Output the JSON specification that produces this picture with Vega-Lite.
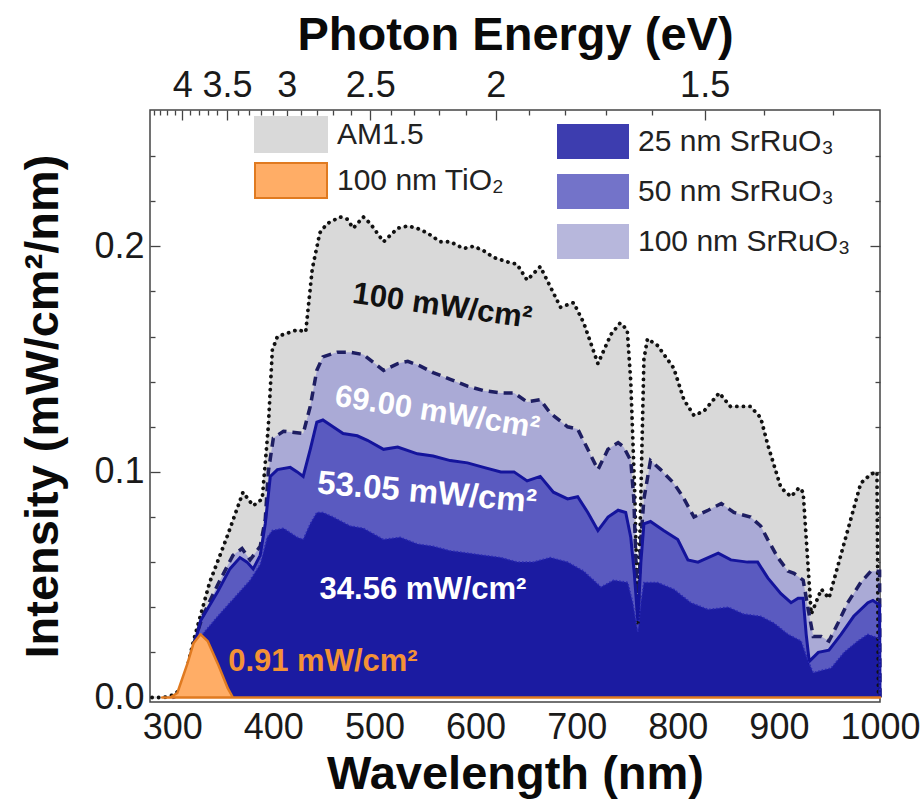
{
  "$schema": "https://vega.github.io/schema/vega-lite/v6.json",
  "width": 730,
  "height": 592,
  "autosize": {"type": "none"},
  "padding": {"left": 150, "top": 110, "right": 43, "bottom": 102},
  "background": "white",
  "config": {
    "view": {"stroke": "#444", "strokeWidth": 1.5},
    "font": "Liberation Sans",
    "axis": {"grid": false, "domain": false, "tickColor": "#444", "tickWidth": 1.3, "labelFont": "Liberation Sans", "titleFont": "Liberation Sans", "labelColor": "#1a1a1a", "titleColor": "#0a0a0a", "labelOverlap": false, "labelFlush": false},
    "legend": {"labelFont": "Liberation Sans", "labelColor": "#222", "labelFontSize": 30, "padding": 0, "titlePadding": 0, "labelLimit": 400}
  },
  "datasets": {
    "spec": [
      {"s": "AM1.5", "wl": 280, "v": 0}, {"s": "AM1.5", "wl": 292, "v": 0}, {"s": "AM1.5", "wl": 300, "v": 0.001}, {"s": "AM1.5", "wl": 310, "v": 0.004}, {"s": "AM1.5", "wl": 321, "v": 0.025}, {"s": "AM1.5", "wl": 337, "v": 0.051}, {"s": "AM1.5", "wl": 354, "v": 0.071}, {"s": "AM1.5", "wl": 370, "v": 0.091}, {"s": "AM1.5", "wl": 380, "v": 0.085}, {"s": "AM1.5", "wl": 389, "v": 0.088}, {"s": "AM1.5", "wl": 395, "v": 0.12}, {"s": "AM1.5", "wl": 399, "v": 0.154}, {"s": "AM1.5", "wl": 404, "v": 0.160}, {"s": "AM1.5", "wl": 424, "v": 0.163}, {"s": "AM1.5", "wl": 432, "v": 0.162}, {"s": "AM1.5", "wl": 438.5, "v": 0.19}, {"s": "AM1.5", "wl": 446, "v": 0.206}, {"s": "AM1.5", "wl": 453, "v": 0.210}, {"s": "AM1.5", "wl": 466, "v": 0.213}, {"s": "AM1.5", "wl": 473, "v": 0.212}, {"s": "AM1.5", "wl": 479, "v": 0.208}, {"s": "AM1.5", "wl": 489, "v": 0.213}, {"s": "AM1.5", "wl": 496, "v": 0.210}, {"s": "AM1.5", "wl": 509, "v": 0.202}, {"s": "AM1.5", "wl": 523, "v": 0.208}, {"s": "AM1.5", "wl": 533, "v": 0.209}, {"s": "AM1.5", "wl": 542, "v": 0.208}, {"s": "AM1.5", "wl": 552, "v": 0.206}, {"s": "AM1.5", "wl": 565, "v": 0.202}, {"s": "AM1.5", "wl": 575, "v": 0.202}, {"s": "AM1.5", "wl": 588, "v": 0.199}, {"s": "AM1.5", "wl": 598, "v": 0.200}, {"s": "AM1.5", "wl": 608, "v": 0.198}, {"s": "AM1.5", "wl": 618, "v": 0.195}, {"s": "AM1.5", "wl": 632, "v": 0.193}, {"s": "AM1.5", "wl": 641, "v": 0.192}, {"s": "AM1.5", "wl": 651, "v": 0.185}, {"s": "AM1.5", "wl": 664, "v": 0.191}, {"s": "AM1.5", "wl": 674, "v": 0.182}, {"s": "AM1.5", "wl": 684, "v": 0.173}, {"s": "AM1.5", "wl": 697, "v": 0.175}, {"s": "AM1.5", "wl": 707, "v": 0.166}, {"s": "AM1.5", "wl": 721, "v": 0.148}, {"s": "AM1.5", "wl": 734, "v": 0.161}, {"s": "AM1.5", "wl": 743, "v": 0.166}, {"s": "AM1.5", "wl": 750, "v": 0.163}, {"s": "AM1.5", "wl": 753.5, "v": 0.14}, {"s": "AM1.5", "wl": 757.5, "v": 0.09}, {"s": "AM1.5", "wl": 760.5, "v": 0.033}, {"s": "AM1.5", "wl": 763.5, "v": 0.09}, {"s": "AM1.5", "wl": 766.5, "v": 0.15}, {"s": "AM1.5", "wl": 770, "v": 0.159}, {"s": "AM1.5", "wl": 780, "v": 0.156}, {"s": "AM1.5", "wl": 796, "v": 0.146}, {"s": "AM1.5", "wl": 806, "v": 0.132}, {"s": "AM1.5", "wl": 816, "v": 0.125}, {"s": "AM1.5", "wl": 826, "v": 0.127}, {"s": "AM1.5", "wl": 841, "v": 0.135}, {"s": "AM1.5", "wl": 852, "v": 0.129}, {"s": "AM1.5", "wl": 872, "v": 0.129}, {"s": "AM1.5", "wl": 882, "v": 0.124}, {"s": "AM1.5", "wl": 889, "v": 0.112}, {"s": "AM1.5", "wl": 902, "v": 0.093}, {"s": "AM1.5", "wl": 912, "v": 0.089}, {"s": "AM1.5", "wl": 920, "v": 0.093}, {"s": "AM1.5", "wl": 924, "v": 0.091}, {"s": "AM1.5", "wl": 932, "v": 0.037}, {"s": "AM1.5", "wl": 942, "v": 0.048}, {"s": "AM1.5", "wl": 949.5, "v": 0.044}, {"s": "AM1.5", "wl": 968, "v": 0.074}, {"s": "AM1.5", "wl": 981, "v": 0.095}, {"s": "AM1.5", "wl": 991, "v": 0.099}, {"s": "AM1.5", "wl": 997, "v": 0.100}, {"s": "AM1.5", "wl": 998.5, "v": 0},

      {"s": "100 nm SrRuO₃", "wl": 300, "v": 0}, {"s": "100 nm SrRuO₃", "wl": 306, "v": 0.001}, {"s": "100 nm SrRuO₃", "wl": 312, "v": 0.006}, {"s": "100 nm SrRuO₃", "wl": 320, "v": 0.022}, {"s": "100 nm SrRuO₃", "wl": 330, "v": 0.036}, {"s": "100 nm SrRuO₃", "wl": 345, "v": 0.050}, {"s": "100 nm SrRuO₃", "wl": 360, "v": 0.063}, {"s": "100 nm SrRuO₃", "wl": 369, "v": 0.066}, {"s": "100 nm SrRuO₃", "wl": 377, "v": 0.061}, {"s": "100 nm SrRuO₃", "wl": 387, "v": 0.067}, {"s": "100 nm SrRuO₃", "wl": 392, "v": 0.079}, {"s": "100 nm SrRuO₃", "wl": 395, "v": 0.100}, {"s": "100 nm SrRuO₃", "wl": 400, "v": 0.115}, {"s": "100 nm SrRuO₃", "wl": 410, "v": 0.118}, {"s": "100 nm SrRuO₃", "wl": 429.5, "v": 0.117}, {"s": "100 nm SrRuO₃", "wl": 436.5, "v": 0.129}, {"s": "100 nm SrRuO₃", "wl": 443, "v": 0.145}, {"s": "100 nm SrRuO₃", "wl": 449, "v": 0.151}, {"s": "100 nm SrRuO₃", "wl": 463, "v": 0.153}, {"s": "100 nm SrRuO₃", "wl": 476, "v": 0.153}, {"s": "100 nm SrRuO₃", "wl": 489, "v": 0.152}, {"s": "100 nm SrRuO₃", "wl": 509, "v": 0.145}, {"s": "100 nm SrRuO₃", "wl": 523, "v": 0.148}, {"s": "100 nm SrRuO₃", "wl": 533, "v": 0.149}, {"s": "100 nm SrRuO₃", "wl": 545, "v": 0.147}, {"s": "100 nm SrRuO₃", "wl": 558, "v": 0.144}, {"s": "100 nm SrRuO₃", "wl": 575, "v": 0.141}, {"s": "100 nm SrRuO₃", "wl": 592, "v": 0.138}, {"s": "100 nm SrRuO₃", "wl": 608, "v": 0.136}, {"s": "100 nm SrRuO₃", "wl": 625, "v": 0.135}, {"s": "100 nm SrRuO₃", "wl": 638, "v": 0.135}, {"s": "100 nm SrRuO₃", "wl": 651, "v": 0.131}, {"s": "100 nm SrRuO₃", "wl": 664, "v": 0.132}, {"s": "100 nm SrRuO₃", "wl": 674, "v": 0.126}, {"s": "100 nm SrRuO₃", "wl": 691, "v": 0.120}, {"s": "100 nm SrRuO₃", "wl": 701, "v": 0.119}, {"s": "100 nm SrRuO₃", "wl": 711, "v": 0.110}, {"s": "100 nm SrRuO₃", "wl": 721, "v": 0.101}, {"s": "100 nm SrRuO₃", "wl": 731, "v": 0.110}, {"s": "100 nm SrRuO₃", "wl": 741, "v": 0.113}, {"s": "100 nm SrRuO₃", "wl": 746.5, "v": 0.111}, {"s": "100 nm SrRuO₃", "wl": 753.5, "v": 0.105}, {"s": "100 nm SrRuO₃", "wl": 756.5, "v": 0.088}, {"s": "100 nm SrRuO₃", "wl": 760.5, "v": 0.036}, {"s": "100 nm SrRuO₃", "wl": 763.5, "v": 0.07}, {"s": "100 nm SrRuO₃", "wl": 766.5, "v": 0.088}, {"s": "100 nm SrRuO₃", "wl": 773, "v": 0.105}, {"s": "100 nm SrRuO₃", "wl": 783, "v": 0.101}, {"s": "100 nm SrRuO₃", "wl": 796, "v": 0.095}, {"s": "100 nm SrRuO₃", "wl": 805, "v": 0.089}, {"s": "100 nm SrRuO₃", "wl": 816, "v": 0.080}, {"s": "100 nm SrRuO₃", "wl": 830, "v": 0.083}, {"s": "100 nm SrRuO₃", "wl": 843, "v": 0.086}, {"s": "100 nm SrRuO₃", "wl": 855.5, "v": 0.082}, {"s": "100 nm SrRuO₃", "wl": 872, "v": 0.080}, {"s": "100 nm SrRuO₃", "wl": 882, "v": 0.076}, {"s": "100 nm SrRuO₃", "wl": 889, "v": 0.070}, {"s": "100 nm SrRuO₃", "wl": 899, "v": 0.062}, {"s": "100 nm SrRuO₃", "wl": 909, "v": 0.056}, {"s": "100 nm SrRuO₃", "wl": 915, "v": 0.055}, {"s": "100 nm SrRuO₃", "wl": 924, "v": 0.052}, {"s": "100 nm SrRuO₃", "wl": 929, "v": 0.039}, {"s": "100 nm SrRuO₃", "wl": 934, "v": 0.027}, {"s": "100 nm SrRuO₃", "wl": 942, "v": 0.027}, {"s": "100 nm SrRuO₃", "wl": 949.5, "v": 0.025}, {"s": "100 nm SrRuO₃", "wl": 958.5, "v": 0.033}, {"s": "100 nm SrRuO₃", "wl": 968, "v": 0.042}, {"s": "100 nm SrRuO₃", "wl": 981, "v": 0.051}, {"s": "100 nm SrRuO₃", "wl": 991, "v": 0.056}, {"s": "100 nm SrRuO₃", "wl": 999.6, "v": 0.056}, {"s": "100 nm SrRuO₃", "wl": 1000, "v": 0},

      {"s": "50 nm SrRuO₃", "wl": 300, "v": 0}, {"s": "50 nm SrRuO₃", "wl": 306, "v": 0.001}, {"s": "50 nm SrRuO₃", "wl": 312, "v": 0.005}, {"s": "50 nm SrRuO₃", "wl": 320, "v": 0.020}, {"s": "50 nm SrRuO₃", "wl": 328, "v": 0.034}, {"s": "50 nm SrRuO₃", "wl": 345, "v": 0.047}, {"s": "50 nm SrRuO₃", "wl": 357, "v": 0.057}, {"s": "50 nm SrRuO₃", "wl": 367, "v": 0.062}, {"s": "50 nm SrRuO₃", "wl": 374, "v": 0.060}, {"s": "50 nm SrRuO₃", "wl": 380, "v": 0.057}, {"s": "50 nm SrRuO₃", "wl": 387, "v": 0.063}, {"s": "50 nm SrRuO₃", "wl": 392, "v": 0.077}, {"s": "50 nm SrRuO₃", "wl": 397, "v": 0.098}, {"s": "50 nm SrRuO₃", "wl": 404, "v": 0.101}, {"s": "50 nm SrRuO₃", "wl": 416.7, "v": 0.102}, {"s": "50 nm SrRuO₃", "wl": 423.6, "v": 0.100}, {"s": "50 nm SrRuO₃", "wl": 429.5, "v": 0.098}, {"s": "50 nm SrRuO₃", "wl": 436.5, "v": 0.110}, {"s": "50 nm SrRuO₃", "wl": 443, "v": 0.122}, {"s": "50 nm SrRuO₃", "wl": 449, "v": 0.123}, {"s": "50 nm SrRuO₃", "wl": 459, "v": 0.120}, {"s": "50 nm SrRuO₃", "wl": 469, "v": 0.117}, {"s": "50 nm SrRuO₃", "wl": 483, "v": 0.116}, {"s": "50 nm SrRuO₃", "wl": 493, "v": 0.114}, {"s": "50 nm SrRuO₃", "wl": 509, "v": 0.110}, {"s": "50 nm SrRuO₃", "wl": 523, "v": 0.111}, {"s": "50 nm SrRuO₃", "wl": 542.5, "v": 0.108}, {"s": "50 nm SrRuO₃", "wl": 558, "v": 0.107}, {"s": "50 nm SrRuO₃", "wl": 575, "v": 0.105}, {"s": "50 nm SrRuO₃", "wl": 592, "v": 0.104}, {"s": "50 nm SrRuO₃", "wl": 608, "v": 0.102}, {"s": "50 nm SrRuO₃", "wl": 625, "v": 0.100}, {"s": "50 nm SrRuO₃", "wl": 638, "v": 0.100}, {"s": "50 nm SrRuO₃", "wl": 651, "v": 0.096}, {"s": "50 nm SrRuO₃", "wl": 664, "v": 0.098}, {"s": "50 nm SrRuO₃", "wl": 677, "v": 0.091}, {"s": "50 nm SrRuO₃", "wl": 691, "v": 0.088}, {"s": "50 nm SrRuO₃", "wl": 701, "v": 0.089}, {"s": "50 nm SrRuO₃", "wl": 711, "v": 0.082}, {"s": "50 nm SrRuO₃", "wl": 721, "v": 0.074}, {"s": "50 nm SrRuO₃", "wl": 731, "v": 0.080}, {"s": "50 nm SrRuO₃", "wl": 741, "v": 0.083}, {"s": "50 nm SrRuO₃", "wl": 748.5, "v": 0.082}, {"s": "50 nm SrRuO₃", "wl": 753.5, "v": 0.071}, {"s": "50 nm SrRuO₃", "wl": 757, "v": 0.055}, {"s": "50 nm SrRuO₃", "wl": 760.5, "v": 0.034}, {"s": "50 nm SrRuO₃", "wl": 763.5, "v": 0.060}, {"s": "50 nm SrRuO₃", "wl": 766.5, "v": 0.077}, {"s": "50 nm SrRuO₃", "wl": 773, "v": 0.078}, {"s": "50 nm SrRuO₃", "wl": 786, "v": 0.074}, {"s": "50 nm SrRuO₃", "wl": 800, "v": 0.070}, {"s": "50 nm SrRuO₃", "wl": 810, "v": 0.061}, {"s": "50 nm SrRuO₃", "wl": 820, "v": 0.060}, {"s": "50 nm SrRuO₃", "wl": 840, "v": 0.064}, {"s": "50 nm SrRuO₃", "wl": 852.5, "v": 0.061}, {"s": "50 nm SrRuO₃", "wl": 869, "v": 0.060}, {"s": "50 nm SrRuO₃", "wl": 879, "v": 0.060}, {"s": "50 nm SrRuO₃", "wl": 889, "v": 0.053}, {"s": "50 nm SrRuO₃", "wl": 902, "v": 0.046}, {"s": "50 nm SrRuO₃", "wl": 912, "v": 0.042}, {"s": "50 nm SrRuO₃", "wl": 919, "v": 0.044}, {"s": "50 nm SrRuO₃", "wl": 924, "v": 0.044}, {"s": "50 nm SrRuO₃", "wl": 927, "v": 0.028}, {"s": "50 nm SrRuO₃", "wl": 930, "v": 0.016}, {"s": "50 nm SrRuO₃", "wl": 939, "v": 0.020}, {"s": "50 nm SrRuO₃", "wl": 949.5, "v": 0.021}, {"s": "50 nm SrRuO₃", "wl": 961.5, "v": 0.028}, {"s": "50 nm SrRuO₃", "wl": 974, "v": 0.036}, {"s": "50 nm SrRuO₃", "wl": 988, "v": 0.042}, {"s": "50 nm SrRuO₃", "wl": 993, "v": 0.043}, {"s": "50 nm SrRuO₃", "wl": 999.6, "v": 0.041}, {"s": "50 nm SrRuO₃", "wl": 1000, "v": 0},

      {"s": "25 nm SrRuO₃", "wl": 300, "v": 0}, {"s": "25 nm SrRuO₃", "wl": 306, "v": 0.001}, {"s": "25 nm SrRuO₃", "wl": 312, "v": 0.004}, {"s": "25 nm SrRuO₃", "wl": 320, "v": 0.015}, {"s": "25 nm SrRuO₃", "wl": 328, "v": 0.027}, {"s": "25 nm SrRuO₃", "wl": 345, "v": 0.036}, {"s": "25 nm SrRuO₃", "wl": 361, "v": 0.044}, {"s": "25 nm SrRuO₃", "wl": 377, "v": 0.052}, {"s": "25 nm SrRuO₃", "wl": 387, "v": 0.059}, {"s": "25 nm SrRuO₃", "wl": 394, "v": 0.071}, {"s": "25 nm SrRuO₃", "wl": 399, "v": 0.074}, {"s": "25 nm SrRuO₃", "wl": 410, "v": 0.075}, {"s": "25 nm SrRuO₃", "wl": 423.6, "v": 0.071}, {"s": "25 nm SrRuO₃", "wl": 429.5, "v": 0.070}, {"s": "25 nm SrRuO₃", "wl": 436.5, "v": 0.077}, {"s": "25 nm SrRuO₃", "wl": 443, "v": 0.082}, {"s": "25 nm SrRuO₃", "wl": 449, "v": 0.082}, {"s": "25 nm SrRuO₃", "wl": 459, "v": 0.080}, {"s": "25 nm SrRuO₃", "wl": 476, "v": 0.076}, {"s": "25 nm SrRuO₃", "wl": 489, "v": 0.075}, {"s": "25 nm SrRuO₃", "wl": 509, "v": 0.070}, {"s": "25 nm SrRuO₃", "wl": 525.6, "v": 0.071}, {"s": "25 nm SrRuO₃", "wl": 542.5, "v": 0.068}, {"s": "25 nm SrRuO₃", "wl": 558, "v": 0.067}, {"s": "25 nm SrRuO₃", "wl": 575, "v": 0.065}, {"s": "25 nm SrRuO₃", "wl": 592, "v": 0.064}, {"s": "25 nm SrRuO₃", "wl": 608, "v": 0.063}, {"s": "25 nm SrRuO₃", "wl": 625, "v": 0.062}, {"s": "25 nm SrRuO₃", "wl": 641.5, "v": 0.060}, {"s": "25 nm SrRuO₃", "wl": 657, "v": 0.060}, {"s": "25 nm SrRuO₃", "wl": 674, "v": 0.062}, {"s": "25 nm SrRuO₃", "wl": 691, "v": 0.060}, {"s": "25 nm SrRuO₃", "wl": 707, "v": 0.056}, {"s": "25 nm SrRuO₃", "wl": 724, "v": 0.049}, {"s": "25 nm SrRuO₃", "wl": 736.6, "v": 0.052}, {"s": "25 nm SrRuO₃", "wl": 750.5, "v": 0.051}, {"s": "25 nm SrRuO₃", "wl": 755.5, "v": 0.042}, {"s": "25 nm SrRuO₃", "wl": 760.5, "v": 0.029}, {"s": "25 nm SrRuO₃", "wl": 763.5, "v": 0.042}, {"s": "25 nm SrRuO₃", "wl": 766.5, "v": 0.051}, {"s": "25 nm SrRuO₃", "wl": 780, "v": 0.051}, {"s": "25 nm SrRuO₃", "wl": 796, "v": 0.048}, {"s": "25 nm SrRuO₃", "wl": 813, "v": 0.042}, {"s": "25 nm SrRuO₃", "wl": 830, "v": 0.039}, {"s": "25 nm SrRuO₃", "wl": 850, "v": 0.040}, {"s": "25 nm SrRuO₃", "wl": 865, "v": 0.037}, {"s": "25 nm SrRuO₃", "wl": 882, "v": 0.036}, {"s": "25 nm SrRuO₃", "wl": 895, "v": 0.033}, {"s": "25 nm SrRuO₃", "wl": 909, "v": 0.028}, {"s": "25 nm SrRuO₃", "wl": 922, "v": 0.025}, {"s": "25 nm SrRuO₃", "wl": 929, "v": 0.016}, {"s": "25 nm SrRuO₃", "wl": 934, "v": 0.011}, {"s": "25 nm SrRuO₃", "wl": 942, "v": 0.012}, {"s": "25 nm SrRuO₃", "wl": 951.5, "v": 0.013}, {"s": "25 nm SrRuO₃", "wl": 964.5, "v": 0.020}, {"s": "25 nm SrRuO₃", "wl": 978, "v": 0.025}, {"s": "25 nm SrRuO₃", "wl": 988, "v": 0.028}, {"s": "25 nm SrRuO₃", "wl": 994, "v": 0.027}, {"s": "25 nm SrRuO₃", "wl": 999.6, "v": 0.026}, {"s": "25 nm SrRuO₃", "wl": 1000, "v": 0},

      {"s": "100 nm TiO₂", "wl": 290, "v": 0}, {"s": "100 nm TiO₂", "wl": 298, "v": 0}, {"s": "100 nm TiO₂", "wl": 305, "v": 0.002}, {"s": "100 nm TiO₂", "wl": 315, "v": 0.015}, {"s": "100 nm TiO₂", "wl": 321, "v": 0.024}, {"s": "100 nm TiO₂", "wl": 328, "v": 0.028}, {"s": "100 nm TiO₂", "wl": 335, "v": 0.025}, {"s": "100 nm TiO₂", "wl": 345, "v": 0.015}, {"s": "100 nm TiO₂", "wl": 355, "v": 0.004}, {"s": "100 nm TiO₂", "wl": 360, "v": 0}, {"s": "100 nm TiO₂", "wl": 1000, "v": 0}
    ]
  },
  "layer": [
    {
      "data": {"name": "spec"},
      "transform": [{"filter": "datum.s === 'AM1.5'"}],
      "mark": {"type": "area", "opacity": 1, "strokeWidth": 1},
      "encoding": {
        "x": {"field": "wl", "type": "quantitative", "scale": {"domain": [278, 1000], "nice": false, "zero": false},
              "axis": {"orient": "bottom", "values": [300, 400, 500, 600, 700, 800, 900, 1000], "format": "d", "ticks": false, "labelFontSize": 36, "labelPadding": 8, "title": "Wavelength (nm)", "titleFontSize": 47, "titleFontWeight": "bold", "titlePadding": 6}},
        "y": {"field": "v", "type": "quantitative", "stack": null, "scale": {"domain": [-0.002, 0.2604], "nice": false, "zero": false},
              "axis": {"orient": "left", "values": [0, 0.1, 0.2], "format": ".1f", "tickSize": -10, "labelFontSize": 36, "labelPadding": 16, "title": "Intensity (mW/cm²/nm)", "titleFontSize": 47, "titleFontWeight": "bold", "titlePadding": 26}},
        "fill": {"field": "s", "type": "nominal", "scale": {"domain": ["AM1.5", "100 nm TiO₂"], "range": ["#d9d9d9", "#ffad66"]},
                 "legend": {"title": null, "orient": "none", "legendX": 122.5, "legendY": 6, "direction": "vertical", "symbolType": "M-2.057,-1H2.057V1H-2.057Z", "symbolSize": 1225, "symbolStrokeWidth": 2, "labelOffset": 27.5, "rowPadding": 3, "labelFontSize": 30}},
        "stroke": {"field": "s", "type": "nominal", "scale": {"domain": ["AM1.5", "100 nm TiO₂"], "range": ["#d9d9d9", "#e07a20"]},
                 "legend": {"title": null, "orient": "none", "legendX": 122.5, "legendY": 6, "direction": "vertical", "symbolType": "M-2.057,-1H2.057V1H-2.057Z", "symbolSize": 1225, "symbolStrokeWidth": 2, "labelOffset": 27.5, "rowPadding": 3, "labelFontSize": 30}}
      }
    },
    {
      "data": {"name": "spec"},
      "transform": [{"filter": "datum.s === '100 nm SrRuO₃'"}],
      "mark": {"type": "area", "opacity": 1},
      "encoding": {
        "x": {"field": "wl", "type": "quantitative", "scale": {"domain": [278, 1000], "nice": false, "zero": false},
              "axis": {"orient": "top", "values": [281.78, 288.33, 295.2, 302.4, 317.91, 326.27, 335.09, 344.4, 364.66, 375.71, 387.45, 399.95, 427.53, 442.8, 459.2, 476.86, 516.6, 539.06, 563.56, 590.4, 652.55, 688.8, 729.32, 774.9, 885.6, 953.72], "tickSize": -5, "labels": false, "title": null}},
        "y": {"field": "v", "type": "quantitative", "stack": null, "scale": {"domain": [-0.002, 0.2604], "nice": false, "zero": false},
              "axis": {"orient": "left", "values": [0.02, 0.04, 0.06, 0.08, 0.12, 0.14, 0.16, 0.18, 0.22, 0.24], "tickSize": -5, "labels": false, "title": null}},
        "color": {"field": "s", "type": "nominal", "scale": {"domain": ["25 nm SrRuO₃", "50 nm SrRuO₃", "100 nm SrRuO₃"], "range": ["#1b1ba1", "#5a5ac0", "#aaaad6"]},
                  "legend": {"title": null, "orient": "none", "legendX": 425.5, "legendY": 14, "direction": "vertical", "symbolType": "M-2.057,-1H2.057V1H-2.057Z", "symbolSize": 1225, "symbolStrokeWidth": 0, "symbolOpacity": 0.85, "labelOffset": 27.5, "rowPadding": 15, "labelFontSize": 30}}
      }
    },
    {
      "data": {"name": "spec"},
      "transform": [{"filter": "datum.s === '50 nm SrRuO₃'"}],
      "mark": {"type": "area", "opacity": 1},
      "encoding": {
        "x": {"field": "wl", "type": "quantitative", "scale": {"domain": [278, 1000], "nice": false, "zero": false}, "axis": null},
        "y": {"field": "v", "type": "quantitative", "stack": null, "scale": {"domain": [-0.002, 0.2604], "nice": false, "zero": false}, "axis": null},
        "color": {"field": "s", "type": "nominal", "scale": {"domain": ["25 nm SrRuO₃", "50 nm SrRuO₃", "100 nm SrRuO₃"], "range": ["#1b1ba1", "#5a5ac0", "#aaaad6"]},
                  "legend": {"title": null, "orient": "none", "legendX": 425.5, "legendY": 14, "direction": "vertical", "symbolType": "M-2.057,-1H2.057V1H-2.057Z", "symbolSize": 1225, "symbolStrokeWidth": 0, "symbolOpacity": 0.85, "labelOffset": 27.5, "rowPadding": 15, "labelFontSize": 30}}
      }
    },
    {
      "data": {"name": "spec"},
      "transform": [{"filter": "datum.s === '25 nm SrRuO₃'"}],
      "mark": {"type": "area", "opacity": 1},
      "encoding": {
        "x": {"field": "wl", "type": "quantitative", "scale": {"domain": [278, 1000], "nice": false, "zero": false}, "axis": null},
        "y": {"field": "v", "type": "quantitative", "stack": null, "scale": {"domain": [-0.002, 0.2604], "nice": false, "zero": false}, "axis": null},
        "color": {"field": "s", "type": "nominal", "scale": {"domain": ["25 nm SrRuO₃", "50 nm SrRuO₃", "100 nm SrRuO₃"], "range": ["#1b1ba1", "#5a5ac0", "#aaaad6"]},
                  "legend": {"title": null, "orient": "none", "legendX": 425.5, "legendY": 14, "direction": "vertical", "symbolType": "M-2.057,-1H2.057V1H-2.057Z", "symbolSize": 1225, "symbolStrokeWidth": 0, "symbolOpacity": 0.85, "labelOffset": 27.5, "rowPadding": 15, "labelFontSize": 30}}
      }
    },
    {
      "data": {"name": "spec"},
      "transform": [{"filter": "datum.s === 'AM1.5'"}],
      "mark": {"type": "line", "color": "#111", "strokeWidth": 3.8, "strokeDash": [0.1, 6.5], "strokeCap": "round"},
      "encoding": {
        "x": {"field": "wl", "type": "quantitative", "scale": {"domain": [278, 1000], "nice": false, "zero": false},
              "axis": {"orient": "top", "values": [309.96, 354.24, 413.28, 495.94, 619.92, 826.56], "labelExpr": "'' + round(12398.4 / datum.value) / 10", "tickSize": -10, "labelFontSize": 36, "labelPadding": 16, "title": "Photon Energy (eV)", "titleFontSize": 47, "titleFontWeight": "bold", "titlePadding": 8}},
        "y": {"field": "v", "type": "quantitative", "scale": {"domain": [-0.002, 0.2604], "nice": false, "zero": false},
              "axis": {"orient": "right", "values": [0, 0.1, 0.2], "tickSize": -10, "labels": false, "title": null}}
      }
    },
    {
      "data": {"name": "spec"},
      "transform": [{"filter": "datum.s === '100 nm SrRuO₃'"}],
      "mark": {"type": "line", "color": "#1e1e62", "strokeWidth": 3.5, "strokeDash": [9, 6]},
      "encoding": {
        "x": {"field": "wl", "type": "quantitative", "scale": {"domain": [278, 1000], "nice": false, "zero": false}, "axis": null},
        "y": {"field": "v", "type": "quantitative", "scale": {"domain": [-0.002, 0.2604], "nice": false, "zero": false},
              "axis": {"orient": "right", "values": [0.02, 0.04, 0.06, 0.08, 0.12, 0.14, 0.16, 0.18, 0.22, 0.24], "tickSize": -5, "labels": false, "title": null}}
      }
    },
    {
      "data": {"name": "spec"},
      "transform": [{"filter": "datum.s === '50 nm SrRuO₃'"}],
      "mark": {"type": "line", "color": "#14149c", "strokeWidth": 3},
      "encoding": {
        "x": {"field": "wl", "type": "quantitative", "scale": {"domain": [278, 1000], "nice": false, "zero": false}, "axis": null},
        "y": {"field": "v", "type": "quantitative", "scale": {"domain": [-0.002, 0.2604], "nice": false, "zero": false}, "axis": null}
      }
    },
    {
      "data": {"name": "spec"},
      "transform": [{"filter": "datum.s === '25 nm SrRuO₃'"}],
      "mark": {"type": "line", "color": "#2a2ab4", "strokeWidth": 1.6, "strokeDash": [1.5, 2]},
      "encoding": {
        "x": {"field": "wl", "type": "quantitative", "scale": {"domain": [278, 1000], "nice": false, "zero": false}, "axis": null},
        "y": {"field": "v", "type": "quantitative", "scale": {"domain": [-0.002, 0.2604], "nice": false, "zero": false}, "axis": null}
      }
    },
    {
      "data": {"name": "spec"},
      "transform": [{"filter": "datum.s === '100 nm TiO₂'"}],
      "mark": {"type": "area", "opacity": 1, "strokeWidth": 2.5, "strokeJoin": "round"},
      "encoding": {
        "x": {"field": "wl", "type": "quantitative", "scale": {"domain": [278, 1000], "nice": false, "zero": false}, "axis": null},
        "y": {"field": "v", "type": "quantitative", "stack": null, "scale": {"domain": [-0.002, 0.2604], "nice": false, "zero": false}, "axis": null},
        "fill": {"field": "s", "type": "nominal", "scale": {"domain": ["AM1.5", "100 nm TiO₂"], "range": ["#d9d9d9", "#ffad66"]},
                 "legend": {"title": null, "orient": "none", "legendX": 122.5, "legendY": 6, "direction": "vertical", "symbolType": "M-2.057,-1H2.057V1H-2.057Z", "symbolSize": 1225, "symbolStrokeWidth": 2, "labelOffset": 27.5, "rowPadding": 3, "labelFontSize": 30}},
        "stroke": {"field": "s", "type": "nominal", "scale": {"domain": ["AM1.5", "100 nm TiO₂"], "range": ["#d9d9d9", "#e07a20"]},
                 "legend": {"title": null, "orient": "none", "legendX": 122.5, "legendY": 6, "direction": "vertical", "symbolType": "M-2.057,-1H2.057V1H-2.057Z", "symbolSize": 1225, "symbolStrokeWidth": 2, "labelOffset": 27.5, "rowPadding": 3, "labelFontSize": 30}}
      }
    },
    {
      "data": {"values": [{"wl": 567, "v": 0.1733, "t": "100 mW/cm²"}]},
      "mark": {"type": "text", "font": "Liberation Sans", "fontSize": 31, "fontWeight": "bold", "color": "#111", "angle": 8, "align": "center", "baseline": "middle"},
      "encoding": {
        "x": {"field": "wl", "type": "quantitative", "scale": {"domain": [278, 1000], "nice": false, "zero": false}, "axis": null},
        "y": {"field": "v", "type": "quantitative", "scale": {"domain": [-0.002, 0.2604], "nice": false, "zero": false}, "axis": null},
        "text": {"field": "t"}
      }
    },
    {
      "data": {"values": [{"wl": 562, "v": 0.1262, "t": "69.00 mW/cm²"}]},
      "mark": {"type": "text", "font": "Liberation Sans", "fontSize": 31, "fontWeight": "bold", "color": "#ffffff", "angle": 9, "align": "center", "baseline": "middle"},
      "encoding": {
        "x": {"field": "wl", "type": "quantitative", "scale": {"domain": [278, 1000], "nice": false, "zero": false}, "axis": null},
        "y": {"field": "v", "type": "quantitative", "scale": {"domain": [-0.002, 0.2604], "nice": false, "zero": false}, "axis": null},
        "text": {"field": "t"}
      }
    },
    {
      "data": {"values": [{"wl": 552, "v": 0.0907, "t": "53.05 mW/cm²"}]},
      "mark": {"type": "text", "font": "Liberation Sans", "fontSize": 33, "fontWeight": "bold", "color": "#ffffff", "angle": 5, "align": "center", "baseline": "middle"},
      "encoding": {
        "x": {"field": "wl", "type": "quantitative", "scale": {"domain": [278, 1000], "nice": false, "zero": false}, "axis": null},
        "y": {"field": "v", "type": "quantitative", "scale": {"domain": [-0.002, 0.2604], "nice": false, "zero": false}, "axis": null},
        "text": {"field": "t"}
      }
    },
    {
      "data": {"values": [{"wl": 548, "v": 0.0476, "t": "34.56 mW/cm²"}]},
      "mark": {"type": "text", "font": "Liberation Sans", "fontSize": 31, "fontWeight": "bold", "color": "#ffffff", "angle": 0, "align": "center", "baseline": "middle"},
      "encoding": {
        "x": {"field": "wl", "type": "quantitative", "scale": {"domain": [278, 1000], "nice": false, "zero": false}, "axis": null},
        "y": {"field": "v", "type": "quantitative", "scale": {"domain": [-0.002, 0.2604], "nice": false, "zero": false}, "axis": null},
        "text": {"field": "t"}
      }
    },
    {
      "data": {"values": [{"wl": 449, "v": 0.0156, "t": "0.91 mW/cm²"}]},
      "mark": {"type": "text", "font": "Liberation Sans", "fontSize": 31, "fontWeight": "bold", "color": "#f39236", "angle": 0, "align": "center", "baseline": "middle"},
      "encoding": {
        "x": {"field": "wl", "type": "quantitative", "scale": {"domain": [278, 1000], "nice": false, "zero": false}, "axis": null},
        "y": {"field": "v", "type": "quantitative", "scale": {"domain": [-0.002, 0.2604], "nice": false, "zero": false}, "axis": null},
        "text": {"field": "t"}
      }
    }
  ],
  "resolve": {"axis": {"x": "independent", "y": "independent"}}
}
